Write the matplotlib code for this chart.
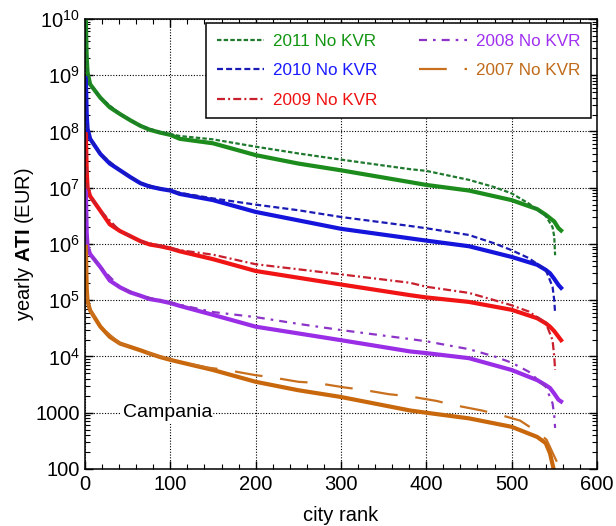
import numpy as np
import matplotlib
matplotlib.use("Agg")
import matplotlib.pyplot as plt
from matplotlib.ticker import FixedLocator, FuncFormatter, LogLocator, MultipleLocator

plt.rcParams['font.family'] = ['Liberation Sans', 'DejaVu Sans']
plt.rcParams['mathtext.fontset'] = 'custom'
plt.rcParams['mathtext.rm'] = 'Liberation Sans'
plt.rcParams['mathtext.bf'] = 'Liberation Sans:bold'

rank_solid = [1, 2, 3, 6, 18, 29, 41, 53, 65, 76, 88, 100, 111, 150, 200, 250,
              300, 381, 400, 450, 500, 530, 540, 545, 550, 555, 558]

# log10 of yearly ATI (EUR), solid curves
log_2011 = [9.97, 9.30, 9.05, 8.84, 8.60, 8.43, 8.31, 8.20, 8.10, 8.03, 7.98, 7.94, 7.87,
            7.79, 7.58, 7.43, 7.31, 7.10, 7.05, 6.95, 6.78, 6.62, 6.52, 6.46, 6.40, 6.28, 6.24]
log_2010 = [8.95, 8.30, 8.05, 7.87, 7.60, 7.43, 7.31, 7.19, 7.08, 7.02, 6.98, 6.95, 6.89,
            6.78, 6.57, 6.42, 6.27, 6.10, 6.06, 5.96, 5.77, 5.63, 5.54, 5.48, 5.38, 5.27, 5.22]
log_2009 = [7.95, 7.30, 7.00, 6.85, 6.59, 6.35, 6.23, 6.14, 6.05, 5.99, 5.96, 5.92, 5.87,
            5.73, 5.52, 5.40, 5.28, 5.09, 5.05, 4.97, 4.83, 4.68, 4.59, 4.53, 4.45, 4.35, 4.29]
log_2008 = [6.95, 6.20, 5.95, 5.82, 5.59, 5.35, 5.23, 5.14, 5.08, 5.02, 4.99, 4.95, 4.90,
            4.74, 4.53, 4.41, 4.29, 4.09, 4.06, 3.97, 3.76, 3.58, 3.49, 3.44, 3.34, 3.23, 3.20]
rank_2007 = [1, 2, 3, 6, 18, 29, 41, 53, 65, 76, 88, 100, 111, 150, 200, 250,
             300, 381, 400, 450, 500, 530, 540, 545, 550]
log_2007 = [5.95, 5.20, 4.98, 4.82, 4.53, 4.35, 4.23, 4.17, 4.11, 4.05, 3.99, 3.94, 3.90,
            3.76, 3.55, 3.40, 3.28, 3.04, 3.00, 2.90, 2.75, 2.57, 2.46, 2.28, 1.95]

# "No KVR" curves (dashed)
rank_nk = [1, 3, 6, 18, 41, 65, 88, 111, 150, 200, 250, 300, 381, 400, 450, 480,
           500, 520, 540, 548, 550, 551]
nk_2011 = [9.97, 9.05, 8.84, 8.60, 8.31, 8.10, 7.99, 7.92, 7.86, 7.73, 7.61, 7.50, 7.33,
           7.30, 7.14, 7.01, 6.90, 6.72, 6.50, 6.30, 6.13, 5.80]
nk_2010 = [8.95, 8.05, 7.87, 7.60, 7.31, 7.08, 6.99, 6.91, 6.81, 6.70, 6.60, 6.48, 6.32,
           6.28, 6.16, 6.01, 5.89, 5.75, 5.54, 5.24, 5.00, 4.77]
nk_2009 = [7.95, 7.00, 6.85, 6.59, 6.23, 6.05, 5.97, 5.89, 5.81, 5.64, 5.55, 5.46, 5.31,
           5.24, 5.13, 5.00, 4.91, 4.80, 4.60, 4.29, 4.00, 3.76]
nk_2008 = [6.95, 5.95, 5.82, 5.59, 5.23, 5.08, 5.00, 4.92, 4.79, 4.70, 4.58, 4.47, 4.31,
           4.27, 4.13, 4.00, 3.89, 3.73, 3.46, 3.17, 2.95, 2.73]
rank_nk07 = [1, 3, 6, 18, 41, 65, 88, 112, 145, 166, 199, 219, 250, 271, 304, 325, 356,
             381, 412, 431, 465, 487, 510, 530, 541, 553]
nk_2007 = [5.95, 4.98, 4.82, 4.53, 4.23, 4.11, 4.00, 3.90, 3.80, 3.76, 3.67, 3.63, 3.55,
           3.53, 3.45, 3.41, 3.33, 3.29, 3.21, 3.14, 3.04, 2.96, 2.86, 2.66, 2.52, 2.13]

labels = ['2011 No KVR', '2010 No KVR', '2009 No KVR', '2008 No KVR', '2007 No KVR']
solid_colors = ['#1c8c1c', '#1414dc', '#f01414', '#9a2ee6', '#c8670c']
dash_colors = ['#1f7a2e', '#1a1ab4', '#c8202e', '#8c34c8', '#c8701e']
text_colors = ['#129612', '#1a1aff', '#ee1111', '#a030f0', '#c06a1a']
dash_styles = [(0, (2, 1)), (0, (2.7, 1.4)), (0, (3.6, 1.4, 0.9, 1.4)),
               (0, (3.6, 2.7, 1.2, 2.7)), (0, (12.5, 8))]

fig = plt.figure(figsize=(6.16, 5.26), dpi=100)
ax = fig.add_axes([0.138, 0.1084, 0.831, 0.8555])

solids = [(rank_solid, log_2011), (rank_solid, log_2010), (rank_solid, log_2009),
          (rank_solid, log_2008), (rank_2007, log_2007)]
dashed = [(rank_nk, nk_2011), (rank_nk, nk_2010), (rank_nk, nk_2009),
          (rank_nk, nk_2008), (rank_nk07, nk_2007)]

for (r, v), c in zip(solids, solid_colors):
    ax.plot(r, np.power(10.0, v), color=c, lw=3.0, solid_joinstyle='round')

handles = []
for (r, v), c, ls, lab in zip(dashed, dash_colors, dash_styles, labels):
    h, = ax.plot(r, np.power(10.0, v), color=c, lw=1.6, linestyle=ls, label=lab)
    handles.append(h)

ax.set_xlim(0, 600)
ax.set_yscale('log')
ax.set_ylim(100, 1e10)

ax.xaxis.set_major_locator(MultipleLocator(100))
ax.xaxis.set_minor_locator(MultipleLocator(20))
ax.yaxis.set_major_locator(FixedLocator([10.0 ** k for k in range(2, 11)]))
ax.yaxis.set_minor_locator(LogLocator(base=10, subs=np.arange(2, 10), numticks=20))


def ylab(v, pos):
    k = int(round(np.log10(v)))
    if k <= 3:
        return '%d' % round(v)
    return r'$\mathregular{10^{%d}}$' % k


ax.yaxis.set_major_formatter(FuncFormatter(ylab))
ax.tick_params(which='both', direction='in', top=True, right=True, labelsize=14.5)
ax.tick_params(which='major', length=6, width=1)
ax.tick_params(which='minor', length=3.5, width=0.8)
ax.tick_params(axis='x', pad=4)

ax.grid(True, which='major', color='k', linestyle=(0, (1, 1.5)), lw=0.8)
for s in ax.spines.values():
    s.set_linewidth(1.1)

ax.set_xlabel('city rank', fontsize=14.5, labelpad=9)
ax.set_ylabel(r'yearly $\mathbf{ATI}$ (EUR)', fontsize=14.5, labelpad=0)

ax.text(44, 1000, 'Campania', fontsize=14, va='center', ha='left',
        bbox=dict(fc='white', ec='none', pad=1))

leg = ax.legend(handles=handles, ncol=2, loc='upper right',
                bbox_to_anchor=(0.988, 0.991), borderaxespad=0,
                fontsize=12.3, handlelength=2.8, handletextpad=0.53,
                columnspacing=2.4, labelspacing=0.85, borderpad=0.62,
                fancybox=False, framealpha=1, edgecolor='k',
                labelcolor=text_colors)
leg.get_frame().set_linewidth(1.1)

fig.savefig('out.png', dpi=100)
